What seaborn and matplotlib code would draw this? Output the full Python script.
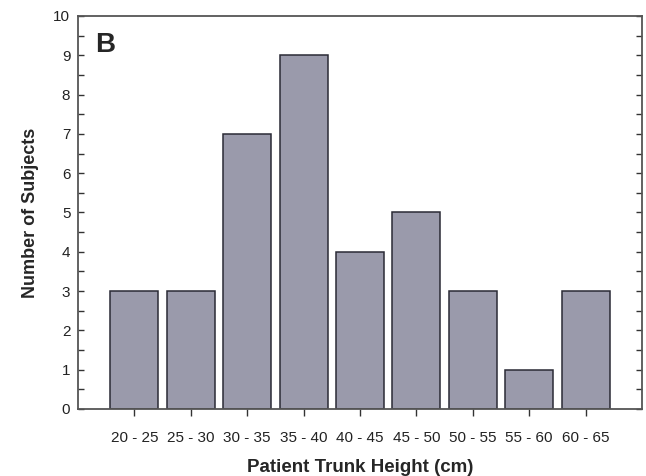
import matplotlib
matplotlib.use("Agg")
import matplotlib.pyplot as plt
import seaborn as sns
import pandas as pd
from matplotlib.ticker import MultipleLocator

sns.set_theme(style="ticks")
plt.rcParams["font.family"] = ["Liberation Sans", "DejaVu Sans"]

# Trunk height bins and subject counts
bins = ["20 - 25", "25 - 30", "30 - 35", "35 - 40", "40 - 45",
        "45 - 50", "50 - 55", "55 - 60", "60 - 65"]
counts = [3, 3, 7, 9, 4, 5, 3, 1, 3]

df = pd.DataFrame({"bin": bins, "count": counts})

fig = plt.figure(figsize=(6.46, 4.76), dpi=100)
ax = fig.add_axes([78 / 646, 1 - 409 / 476, (642 - 78) / 646, (409 - 16) / 476])

sns.barplot(data=df, x="bin", y="count", ax=ax, color="#9a9aab",
            saturation=1, width=0.85, edgecolor="#2a2a35", linewidth=1.1)

ax.set_xlim(-1, 9)
ax.set_ylim(0, 10)
ax.yaxis.set_major_locator(MultipleLocator(1))
ax.yaxis.set_minor_locator(MultipleLocator(0.5))

for s in ax.spines.values():
    s.set_color("#555555")
    s.set_linewidth(1.3)
    s.set_visible(True)

# y ticks on both sides, pointing into the plot
ax.tick_params(axis="y", which="both", left=True, right=True, direction="in",
               colors="#333333", labelsize=11, width=1, length=4, pad=5.5)
ax.tick_params(axis="x", which="major", length=5, colors="#333333",
               labelsize=11, width=1, pad=11)
for lab in ax.get_xticklabels() + ax.get_yticklabels():
    lab.set_color("#222222")

ax.set_xlabel("Patient Trunk Height (cm)", fontsize=13.5, fontweight="bold",
              labelpad=10)
ax.set_ylabel("Number of Subjects", fontsize=13, fontweight="bold",
              labelpad=10)

ax.text(0.03, 0.96, "B", transform=ax.transAxes, fontsize=20,
        fontweight="bold", va="top", ha="left")

fig.savefig("out.png", dpi=100)
